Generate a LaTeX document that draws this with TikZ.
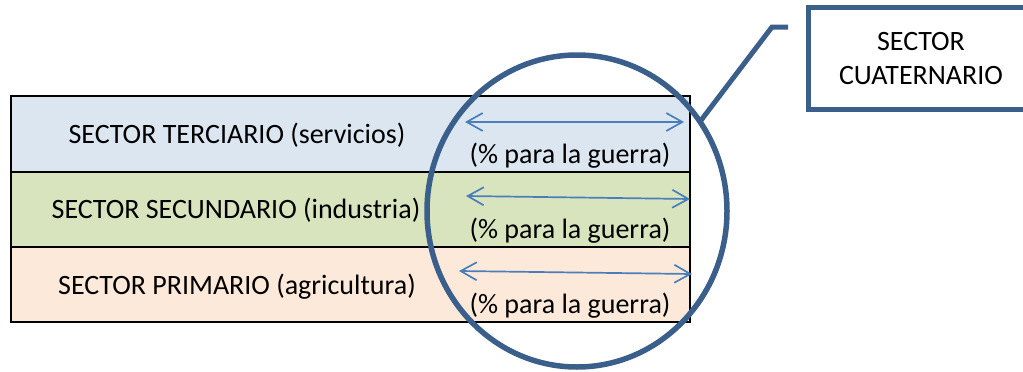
\documentclass[tikz,border=0pt]{standalone}
\usepackage{fontspec}
\setmainfont{Carlito}
\usepackage{xcolor}
\usetikzlibrary{shapes.geometric, arrows.meta, positioning, calc}

\definecolor{tercblue}{HTML}{DCE6F1}
\definecolor{secgreen}{HTML}{D7E4BD}
\definecolor{primpeach}{HTML}{FDE9D9}
\definecolor{arrowblue}{HTML}{4A7EBB}
\definecolor{ringblue}{HTML}{3A5F8B}

\tikzset{
  sectorrow/.style={draw=black, line width=2.4pt, rectangle, anchor=north west,
    minimum width=679pt, inner sep=0pt, outer sep=0pt},
  sectortext/.style={anchor=base, inner sep=0pt, font=\fontsize{28}{34}\selectfont},
  warrow/.style={arrowblue, line width=1.7pt,
    {Straight Barb[length=16pt,width=18pt]}-{Straight Barb[length=16pt,width=18pt]}},
  ring/.style={draw=ringblue, line width=5.5pt, ellipse, inner sep=0pt, outer sep=0pt},
  calloutbox/.style={draw=ringblue, line width=5pt, rectangle, align=center,
    font=\fontsize{28}{34}\selectfont}
}

\begin{document}
\begin{tikzpicture}[x=1pt, y=1pt]
\useasboundingbox (0,0) rectangle (1023,-372);
\clip (0,0) rectangle (1023,-372);

% rows
\node[sectorrow, fill=tercblue, minimum height=76pt] (terc) at (11,-96) {};
\node[sectorrow, fill=secgreen, minimum height=75pt] (secu) at (11,-172) {};
\node[sectorrow, fill=primpeach, minimum height=75pt] (prim) at (11,-247) {};

\node[sectortext] (tercname) at (237,-143) {SECTOR TERCIARIO (servicios)};
\node[sectortext] (secuname) at (236,-218) {SECTOR SECUNDARIO (industria)};
\node[sectortext] (primname) at (237,-294) {SECTOR PRIMARIO (agricultura)};

% war share
\node[sectortext] (tercpct) at (570,-163) {(\% para la guerra)};
\node[sectortext] (secupct) at (570,-238) {(\% para la guerra)};
\node[sectortext] (primpct) at (570,-313) {(\% para la guerra)};

\coordinate (terca) at (465,-122);
\coordinate (tercb) at (684,-122);
\coordinate (secua) at (466,-196);
\coordinate (secub) at (690,-199);
\coordinate (prima) at (459,-271);
\coordinate (primb) at (692,-274);
\draw[warrow] (terca) -- (tercb);
\draw[warrow] (secua) -- (secub);
\draw[warrow] (prima) -- (primb);

% quaternary sector
\node[ring, minimum width=300pt, minimum height=312pt] (cuatring) at (577,-211) {};
\node[calloutbox, minimum width=226pt, minimum height=102pt] (cuat) at (921,-58.5)
  {SECTOR\\CUATERNARIO};
\coordinate (bend) at (772,-27);
\coordinate (tail) at (788,-27);
\draw[ringblue, line width=5pt] (cuatring.36) -- (bend) -- (tail);
\end{tikzpicture}
\end{document}
